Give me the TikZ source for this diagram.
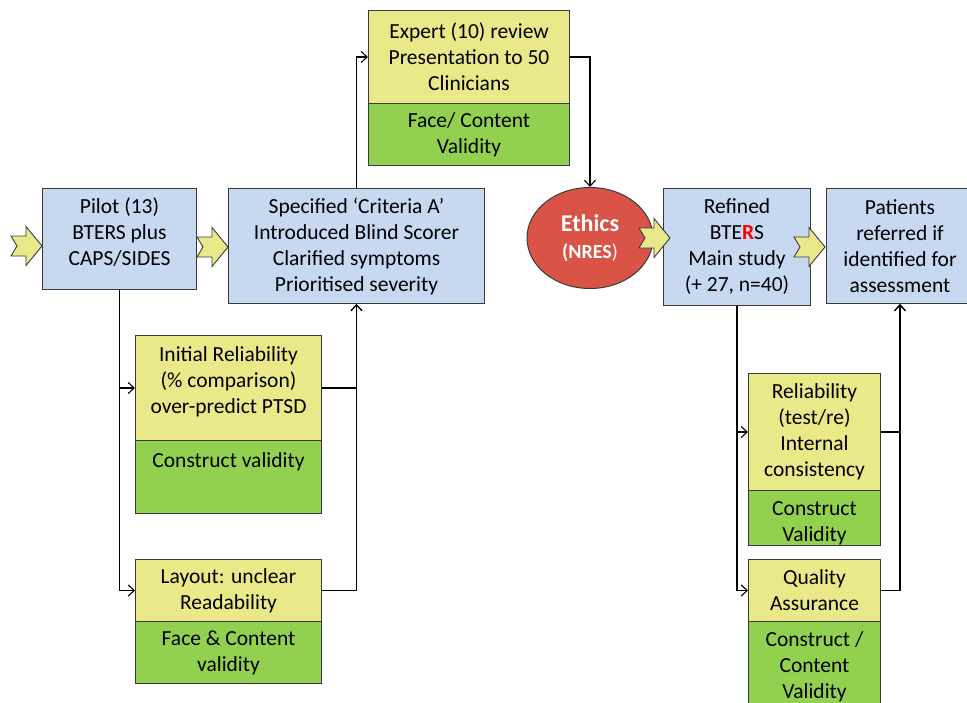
\documentclass[tikz,border=0pt]{standalone}
\usepackage{fontspec}
\setmainfont{Carlito}
\usetikzlibrary{arrows.meta,shapes.geometric}
\definecolor{boxblue}{HTML}{C6D9F1}
\definecolor{boxyellow}{HTML}{E9E98A}
\definecolor{boxgreen}{HTML}{92D050}
\definecolor{ethicsred}{HTML}{D95447}
\definecolor{edgegray}{HTML}{3A3A3A}
\begin{document}
\begin{tikzpicture}[x=1pt,y=-1pt,
  blk/.style={draw=edgegray, line width=1pt, align=center, inner sep=0pt, anchor=north west,
    font=\fontsize{21.5}{26}\selectfont},
  bluebox/.style={blk, fill=boxblue},
  yelbox/.style={blk, fill=boxyellow},
  grnbox/.style={blk, fill=boxgreen},
  conn/.style={draw=black, line width=1.3pt, -{Straight Barb[length=6pt,width=11pt,line width=1.1pt]}},
  chev/.pic={\draw[fill=boxyellow, draw=edgegray, line width=0.9pt, line join=miter]
      (0,0) -- (-16,-19.5) -- (-16,-10) -- (-31,-10) -- (-25,0) -- (-31,10) -- (-16,10) -- (-16,19.5) -- cycle;}
]
\useasboundingbox (0,0) rectangle (967,702);
\clip (0,0) rectangle (967,702);
\fill[white] (0,0) rectangle (967,702);

% top row
\node[bluebox, minimum width=154pt, minimum height=101pt] (pilot) at (42,188)
  {Pilot (13)\\BTERS plus\\CAPS/SIDES\\[-19pt]\strut};
\node[bluebox, minimum width=256pt, minimum height=115pt] (specified) at (228,188)
  {Specified ‘Criteria A’\\Introduced Blind Scorer\\Clarified symptoms\\Prioritised severity};
\node[yelbox, minimum width=201pt, minimum height=93pt] (expertY) at (368,10)
  {Expert (10) review\\Presentation to 50\\Clinicians};
\node[grnbox, minimum width=201pt, minimum height=62pt] (expertG) at (368,103)
  {Face/ Content\\Validity};
\node[ellipse, draw=edgegray, line width=1pt, fill=ethicsred, minimum width=126pt, minimum height=101pt,
  inner sep=0pt, align=center, text=white, font=\fontsize{24}{27}\selectfont\bfseries] (ethics) at (590,238)
  {Ethics\\{\fontsize{20}{27}\selectfont (NRES\mdseries)}};
\node[bluebox, minimum width=147pt, minimum height=117pt] (refined) at (663,188)
  {Refined\\BTE{\bfseries\color{red}R}S\\Main study\\(+ 27, n=40)};
\node[bluebox, minimum width=147pt, minimum height=115pt] (patients) at (826,188)
  {Patients\\referred if\\identified for\\assessment};

% left branch
\node[yelbox, minimum width=186pt, minimum height=105pt] (initialY) at (135,335)
  {Initial Reliability\\(\% comparison)\\over-predict PTSD\\[-18pt]\strut};
\node[grnbox, minimum width=186pt, minimum height=73pt] (initialG) at (135,440)
  {Construct validity\\\strut};
\node[yelbox, minimum width=186pt, minimum height=62pt] (layoutY) at (135,559)
  {Layout: unclear\\Readability};
\node[grnbox, minimum width=186pt, minimum height=62pt] (layoutG) at (135,621)
  {Face \& Content\\validity};

% right branch
\node[yelbox, minimum width=132pt, minimum height=117pt] (relY) at (748,373)
  {Reliability\\(test/re)\\Internal\\consistency};
\node[grnbox, minimum width=132pt, minimum height=55pt] (relG) at (748,490)
  {\strut\\[-20pt]Construct\\Validity};
\node[yelbox, minimum width=132pt, minimum height=62pt] (qualY) at (748,559)
  {Quality\\Assurance};
\node[grnbox, minimum width=132pt, minimum height=90pt] (qualG) at (748,621)
  {Construct /\\Content\\Validity};

% connectors
\draw[conn] (pilot.south) |- (initialY.west);
\draw[conn] (pilot.south) |- (layoutY.west);
\draw[conn] (initialY.east) -| (specified.south);
\draw[conn] (layoutY.east) -| (specified.south);
\draw[conn] (specified.north) |- (expertY.west);
\draw[conn] (expertY.east) -| (ethics.north);
\draw[conn] (refined.south) |- (relY.west);
\draw[conn] (refined.south) |- (qualY.west);
\draw[conn] (relY.east) -| (patients.south);
\draw[conn] (qualY.east) -| (patients.south);

% chevrons
\pic at (42,246) {chev};
\pic at (228,247) {chev};
\pic at (670,238) {chev};
\pic at (825,247) {chev};
\end{tikzpicture}
\end{document}
